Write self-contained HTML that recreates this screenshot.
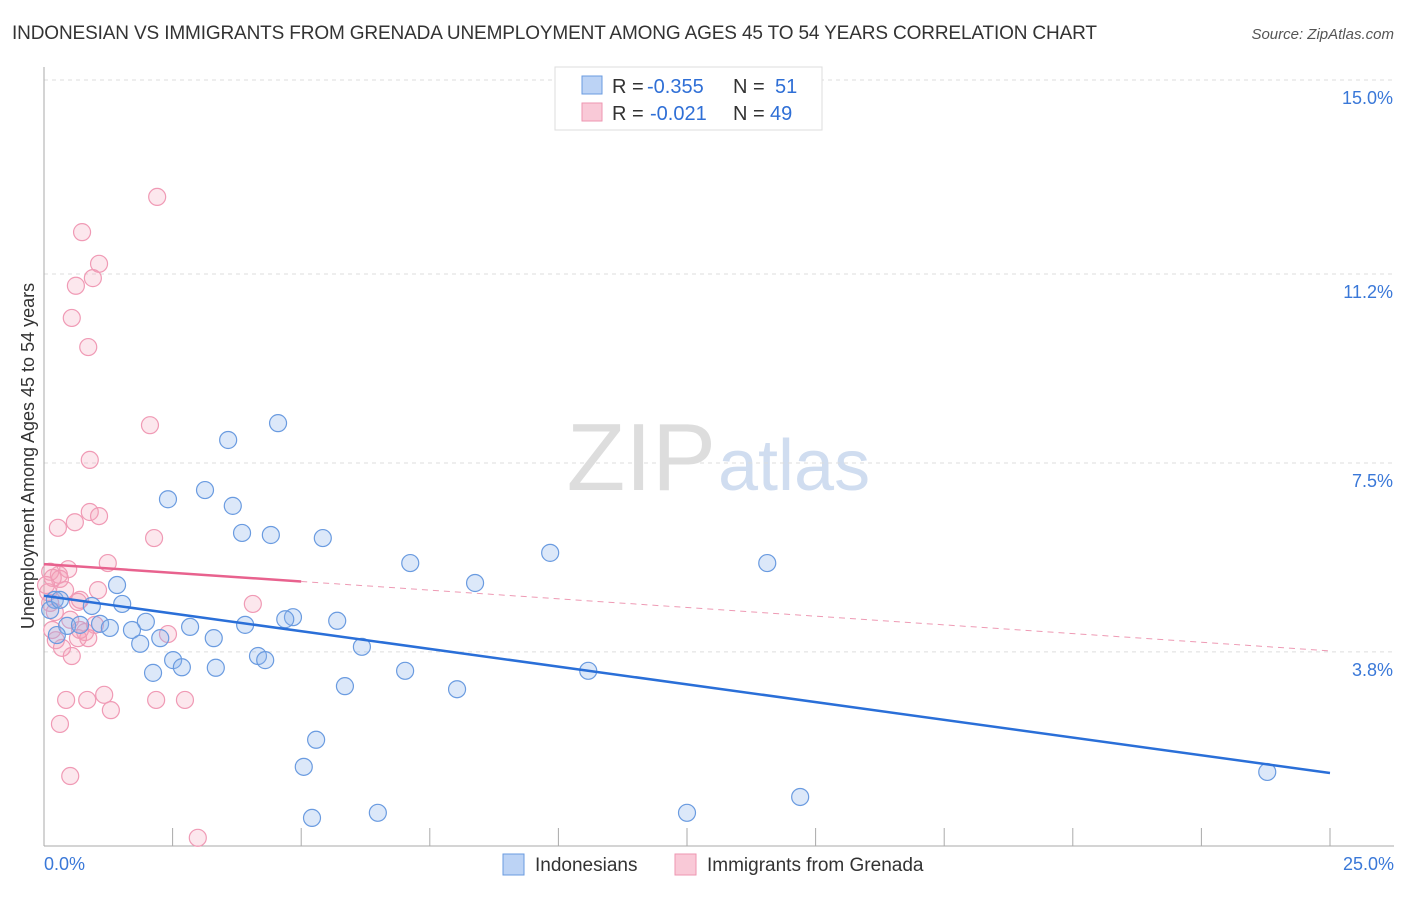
<!DOCTYPE html>
<html><head><meta charset="utf-8"><style>
body{margin:0;background:#fff;font-family:"Liberation Sans",sans-serif}
svg text{font-family:"Liberation Sans",sans-serif}
</style></head><body>
<svg id="c" width="1406" height="892">
<text x="12" y="39" font-size="19" fill="#333" textLength="1085">INDONESIAN VS IMMIGRANTS FROM GRENADA UNEMPLOYMENT AMONG AGES 45 TO 54 YEARS CORRELATION CHART</text>
<text x="1394" y="39" font-size="15" fill="#555" font-style="italic" text-anchor="end">Source: ZipAtlas.com</text>
<text x="716" y="490" font-size="96" fill="#ddd" text-anchor="end" font-family="Liberation Serif">ZIP</text>
<text x="718" y="490" font-size="72" fill="#d0ddf0">atlas</text>
<g id="grid"></g><g id="axes"></g><g id="marks"></g>
<text transform="translate(34,456) rotate(-90)" font-size="18" fill="#333" text-anchor="middle">Unemployment Among Ages 45 to 54 years</text>
<g>
<rect x="555" y="67" width="267" height="63" fill="#fff" stroke="#ddd"/>
<rect x="582" y="76" width="20" height="18" fill="#bcd3f5" stroke="#6a9be0"/>
<rect x="582" y="103" width="20" height="18" fill="#f9c9d7" stroke="#ee96b1"/>
<text x="612" y="93" font-size="20" fill="#333">R = <tspan x="647" fill="#2f6fd6">-0.355</tspan><tspan x="733">N = </tspan><tspan x="775" fill="#2f6fd6">51</tspan></text>
<text x="612" y="120" font-size="20" fill="#333">R = <tspan x="650" fill="#2f6fd6">-0.021</tspan><tspan x="733">N = </tspan><tspan x="770" fill="#2f6fd6">49</tspan></text>
</g>
<g>
<rect x="503" y="854" width="21" height="21" fill="#bcd3f5" stroke="#6a9be0"/>
<text x="535" y="871" font-size="19" fill="#333">Indonesians</text>
<rect x="675" y="854" width="21" height="21" fill="#f9c9d7" stroke="#ee96b1"/>
<text x="707" y="871" font-size="19" fill="#333">Immigrants from Grenada</text>
</g>
</svg>
<script>
const xTicks=[0,2.5,5,7.5,10,12.5,15,17.5,20,22.5,25];
const yTicks=[3.8,7.5,11.2,15.0];
const yTickLabels=["3.8%","7.5%","11.2%","15.0%"];
const blueX=[4.55,3.58,3.13,2.41,3.67,3.85,4.41,5.42,9.84,7.12,14.06,8.38,1.42,0.21,1.52,0.93,4.84,4.69,5.70,1.98,0.45,1.09,0.70,1.28,2.84,3.91,1.71,2.26,3.30,1.87,6.18,4.16,4.30,2.51,2.68,3.34,2.12,7.02,10.58,5.85,8.03,5.29,5.05,6.49,5.21,12.50,14.70,23.78,0.25,0.12,0.31];
const blueY=[8.28,7.95,6.97,6.79,6.66,6.13,6.09,6.03,5.74,5.54,5.54,5.15,5.11,4.82,4.74,4.70,4.48,4.44,4.41,4.39,4.31,4.35,4.33,4.27,4.29,4.33,4.23,4.07,4.07,3.96,3.90,3.72,3.64,3.64,3.50,3.49,3.39,3.43,3.43,3.13,3.07,2.08,1.55,0.65,0.55,0.65,0.96,1.45,4.13,4.62,4.82];
const pinkX=[2.20,0.74,1.07,0.95,0.62,0.54,0.86,2.06,0.89,0.89,1.07,0.27,0.60,2.14,1.24,0.47,0.29,0.12,0.31,0.08,0.12,0.70,4.06,0.66,0.21,0.51,0.99,0.80,2.41,0.66,0.86,0.35,0.54,1.17,0.43,0.84,2.18,2.74,1.30,0.31,0.51,2.99,0.17,0.41,1.05,0.04,0.16,0.23,0.70];
const pinkY=[12.71,12.02,11.40,11.12,10.97,10.34,9.77,8.24,7.56,6.54,6.46,6.23,6.34,6.03,5.54,5.42,5.31,5.37,5.23,4.97,4.76,4.82,4.74,4.78,4.58,4.43,4.33,4.19,4.15,4.07,4.07,3.88,3.72,2.96,2.86,2.86,2.86,2.86,2.66,2.39,1.37,0.16,5.25,5.01,5.01,5.11,4.23,4.03,4.23];
const blueTrend=[4.90,1.43];
const pinkTrend=[5.52,3.82];
const X=v=>44+v*51.44, Y=v=>846-v*51.07;
const ns="http://www.w3.org/2000/svg";
function mk(tag,attrs,parent){const e=document.createElementNS(ns,tag);for(const k in attrs)e.setAttribute(k,attrs[k]);parent.appendChild(e);return e;}
const grid=document.getElementById('grid'),axes=document.getElementById('axes'),marks=document.getElementById('marks');
yTicks.forEach((t,i)=>{
 const g=mk('line',{x1:44,x2:1394,y1:Y(t),y2:Y(t),stroke:'#ddd','stroke-dasharray':'4,4'},grid);
 
 
 const l=mk('text',{x:1393,y:Y(t)+24,'font-size':18,fill:'#3a78d8','text-anchor':'end'},axes);
 l.textContent=yTickLabels[i];
 
 
});
const ya=mk('line',{x1:44,x2:44,y1:67,y2:846,stroke:'#aaa'},axes);


const xa=mk('line',{x1:44,x2:1394,y1:846,y2:846,stroke:'#aaa'},axes);


xTicks.forEach(t=>{const e=mk('line',{x1:X(t),x2:X(t),y1:828,y2:846,stroke:'#aaa'},axes);
 
 });
const l0=mk('text',{x:44,y:870,'font-size':18,fill:'#3a78d8'},axes);l0.textContent='0.0%';


const l1=mk('text',{x:1394,y:870,'font-size':18,fill:'#3a78d8','text-anchor':'end'},axes);l1.textContent='25.0%';


pinkX.forEach((x,i)=>{const c=mk('circle',{cx:X(x),cy:Y(pinkY[i]),r:8.5,fill:'rgba(245,160,185,0.25)',stroke:'#f09ab5','stroke-width':1.2},marks);
 
 });
blueX.forEach((x,i)=>{const c=mk('circle',{cx:X(x),cy:Y(blueY[i]),r:8.5,fill:'rgba(140,180,235,0.3)',stroke:'#6a9be0','stroke-width':1.2},marks);
 
 });
const bt=mk('line',{x1:X(0),y1:Y(blueTrend[0]),x2:X(25),y2:Y(blueTrend[1]),stroke:'#2a6fd8','stroke-width':2.5},marks);


const pv=v=>pinkTrend[0]+(pinkTrend[1]-pinkTrend[0])*v/25;
const ps=mk('line',{x1:X(0),y1:Y(pinkTrend[0]),x2:X(5),y2:Y(pv(5)),stroke:'#e8628e','stroke-width':2.5},marks);


const pd=mk('line',{x1:X(5),y1:Y(pv(5)),x2:X(25),y2:Y(pinkTrend[1]),stroke:'#ee9ab4','stroke-width':1,'stroke-dasharray':'6,5'},marks);


</script>
</body></html>
